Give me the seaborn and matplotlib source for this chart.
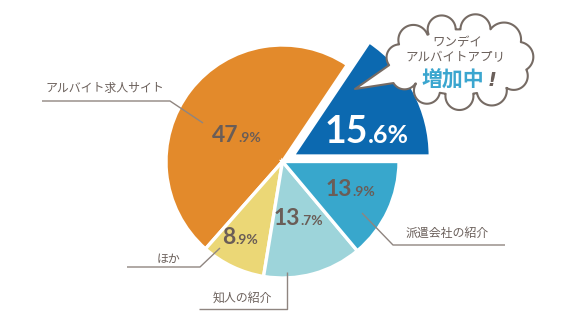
import numpy as np
import matplotlib
matplotlib.use("Agg")
import matplotlib.pyplot as plt
import seaborn as sns
from matplotlib.patches import Polygon

# Share of respondents by channel used to find the job (percent)
categories = ["ワンデイアルバイトアプリ", "アルバイト求人サイト", "ほか", "知人の紹介", "派遣会社の紹介"]
shares = [15.6, 47.9, 8.9, 13.7, 13.9]
colors = ["#0c69b0", "#e38a2b", "#ebd776", "#9dd4da", "#38a7cc"]
callout_lines = ["ワンデイ", "アルバイトアプリ"]
callout_emphasis = "増加中"

sns.set_theme(style="white")
plt.rcParams["font.family"] = ["Noto Sans CJK JP", "DejaVu Sans"]

W, H = 580, 329
TEXT = "#6b605b"
LINE = "#8f8580"
NUM = "#6a5d57"


def py(y):
    """Convert a top-down pixel row into the upward data axis."""
    return H - y


fig = plt.figure(figsize=(W / 100, H / 100), dpi=100)
ax = fig.add_axes([0, 0, 1, 1])

radius = 116.5
center = (282.5, py(161.5))
wedges, _ = ax.pie(
    shares,
    colors=colors,
    startangle=0,
    counterclock=True,
    explode=[0.1 * radius, 0, 0, 0, 0],
    radius=radius,
    center=center,
    wedgeprops=dict(edgecolor="white", linewidth=2.4),
)
# the highlighted slice is drawn larger than the rest
wedges[0].set_radius(radius * 1.18)

ax.set_xlim(0, W)
ax.set_ylim(0, H)
ax.set_aspect("equal")
ax.axis("off")


def value_label(x, y, value, big, small, color):
    whole, frac = f"{value:.1f}".split(".")
    ax.text(x, py(y), whole, ha="right", va="baseline", fontsize=big,
            fontweight="bold", family=["Lato", "DejaVu Sans"], color=color, zorder=6)
    ax.text(x, py(y), f".{frac}%", ha="left", va="baseline", fontsize=small,
            fontweight="bold", family=["Lato", "DejaVu Sans"], color=color, zorder=6)


value_label(368, 143, shares[0], 27, 18, "white")
value_label(238, 142, shares[1], 16.5, 10, NUM)
value_label(235, 244, shares[2], 16.5, 10, NUM)
value_label(300, 225, shares[3], 16.5, 10, NUM)
value_label(352, 196, shares[4], 16.5, 10, NUM)


def leader(points):
    xs = [p[0] for p in points]
    ys = [py(p[1]) for p in points]
    ax.plot(xs, ys, color=LINE, lw=1.0, solid_capstyle="butt", zorder=3)


leader([(42, 101), (170, 101), (203, 123)])
leader([(362, 213), (393, 245), (505, 245)])
leader([(220, 248), (200, 267), (127, 267)])
leader([(287, 272), (287, 309), (199, 309)])

label_kw = dict(ha="center", va="center", fontsize=8.6, color=TEXT, zorder=6)
ax.text(105, py(88), categories[1], **label_kw)
ax.text(168, py(259), categories[2], **label_kw)
ax.text(242, py(298), categories[3], **label_kw)
ax.text(447, py(233), categories[4], **label_kw)


def cloud_outline(cx, cy, a, b, radii, phase):
    n = len(radii)
    ang = phase + np.arange(n) * 2 * np.pi / n
    centers = np.c_[cx + a * np.cos(ang), cy + b * np.sin(ang)]
    notches = []
    for i in range(n):
        j = (i + 1) % n
        p, q = centers[i], centers[j]
        r1, r2 = radii[i], radii[j]
        d = np.linalg.norm(q - p)
        along = (d * d + r1 * r1 - r2 * r2) / (2 * d)
        h = np.sqrt(max(r1 * r1 - along * along, 0.0))
        u = (q - p) / d
        base = p + along * u
        perp = np.array([-u[1], u[0]])
        c1, c2 = base + h * perp, base - h * perp
        far = np.hypot(*(c1 - (cx, cy))) > np.hypot(*(c2 - (cx, cy)))
        notches.append(c1 if far else c2)
    pts = []
    for i in range(n):
        c, r = centers[i], radii[i]
        s, e = notches[i - 1], notches[i]
        t0 = np.arctan2(s[1] - c[1], s[0] - c[0])
        t1 = np.arctan2(e[1] - c[1], e[0] - c[0])
        while t1 < t0:
            t1 += 2 * np.pi
        t = np.linspace(t0, t1, 40)
        pts.append(np.c_[c[0] + r * np.cos(t), c[1] + r * np.sin(t)])
    return np.vstack(pts)


ccx, ccy = 459, py(62)
outline = cloud_outline(ccx, ccy, 60, 34,
                        [15, 17, 15, 14, 15, 13, 13, 13, 14, 15, 14], 0.15)

# open the outline on the left and run it out to the tail tip
tip = np.array([355, py(89)])
left = np.where(outline[:, 0] < ccx - 30)[0]
i_up = left[np.argmin(np.abs(outline[left, 1] - py(65)))]
i_lo = left[np.argmin(np.abs(outline[left, 1] - py(83)))]
rolled = np.roll(outline, -i_lo, axis=0)
k = (i_up - i_lo) % len(outline)
shape = np.vstack([rolled[: k + 1], tip])
ax.add_patch(Polygon(shape, closed=True, facecolor="white", edgecolor="#766b64",
                     lw=1.5, joinstyle="round", zorder=5))

ax.text(457, py(43), callout_lines[0], ha="center", va="center", fontsize=9,
        color=TEXT, zorder=6)
ax.text(455, py(58), callout_lines[1], ha="center", va="center", fontsize=9,
        color=TEXT, zorder=6)
ax.text(453, py(80), callout_emphasis, ha="center", va="center", fontsize=15,
        fontweight="bold", color="#3ba6cf", zorder=6)
ax.text(492, py(80), "!", ha="center", va="center", fontsize=14, style="italic",
        fontweight="bold", family=["DejaVu Sans"], color=TEXT, zorder=6)

fig.savefig("out.png", dpi=100, facecolor="white")
